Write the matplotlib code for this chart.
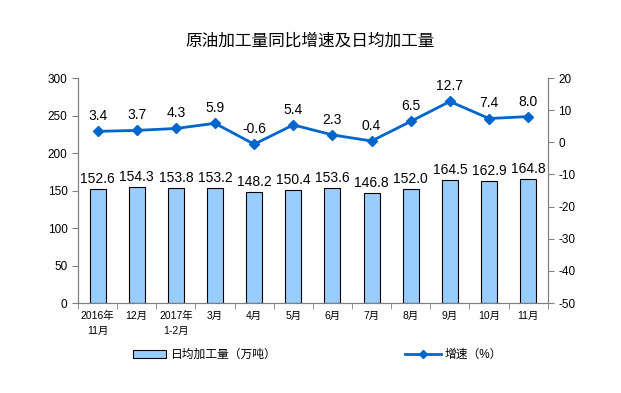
import matplotlib
matplotlib.use('Agg')
import matplotlib.pyplot as plt
import numpy as np
from matplotlib.lines import Line2D
from matplotlib.patches import Patch

plt.rcParams['font.family'] = ['Liberation Sans', 'Noto Sans CJK SC', 'DejaVu Sans']
plt.rcParams['axes.unicode_minus'] = False

# Daten
months = ['2016年\n11月', '12月', '2017年\n1-2月', '3月', '4月', '5月', '6月',
          '7月', '8月', '9月', '10月', '11月']
daily_output = [152.6, 154.3, 153.8, 153.2, 148.2, 150.4, 153.6, 146.8, 152.0, 164.5, 162.9, 164.8]
growth = [3.4, 3.7, 4.3, 5.9, -0.6, 5.4, 2.3, 0.4, 6.5, 12.7, 7.4, 8.0]

x = np.arange(len(months))
grey = '#808080'

fig = plt.figure(figsize=(6.21, 3.93), dpi=100)
ax = fig.add_axes([0.1256, 0.229, 0.7564, 0.5725])
ax2 = ax.twinx()

ax.bar(x, daily_output, width=0.41, color='#99CCFF', edgecolor='black', linewidth=0.8, zorder=2)
for xi, v in zip(x, daily_output):
    ax.text(xi, v + 4, f'{v:.1f}', ha='center', va='bottom', fontsize=10)

ax2.plot(x, growth, color='#0066CC', linewidth=2, marker='D', markersize=5, zorder=3)
for xi, v in zip(x, growth):
    ax2.text(xi, v + 2.5, f'{v:.1f}', ha='center', va='bottom', fontsize=10)

ax.set_xlim(-0.5, len(months) - 0.5)
ax.set_ylim(0, 300)
ax.set_yticks(range(0, 301, 50))
ax2.set_ylim(-50, 20)
ax2.set_yticks(range(-50, 21, 10))

ax.set_xticks(x)
ax.set_xticklabels(months, fontsize=7.5, linespacing=1.6)
ax.set_xticks(np.arange(-0.5, len(months), 1), minor=True)
ax.tick_params(axis='x', which='major', length=0, pad=6)
ax.tick_params(axis='x', which='minor', length=4, color=grey, direction='out')
ax.tick_params(axis='y', labelsize=8.5, length=4, color=grey)
ax2.tick_params(axis='y', labelsize=8.5, length=4, color=grey)

for a in (ax, ax2):
    a.spines['top'].set_visible(False)
    for s in ('left', 'right', 'bottom'):
        a.spines[s].set_color(grey)

fig.suptitle('原油加工量同比增速及日均加工量', y=0.915, fontsize=12)

handles = [Patch(facecolor='#99CCFF', edgecolor='black', linewidth=0.8),
           Line2D([0], [0], color='#0066CC', linewidth=2, marker='D', markersize=4)]
fig.legend(handles[:1], ['日均加工量（万吨）'], loc='center', bbox_to_anchor=(0.33, 0.097),
           frameon=False, fontsize=8.5, handlelength=2.8, handletextpad=0.4)
fig.legend(handles[1:], ['增速（%）'], loc='center', bbox_to_anchor=(0.73, 0.097),
           frameon=False, fontsize=8.5, handlelength=3, handletextpad=0.3)

fig.savefig('out.png', dpi=100)
